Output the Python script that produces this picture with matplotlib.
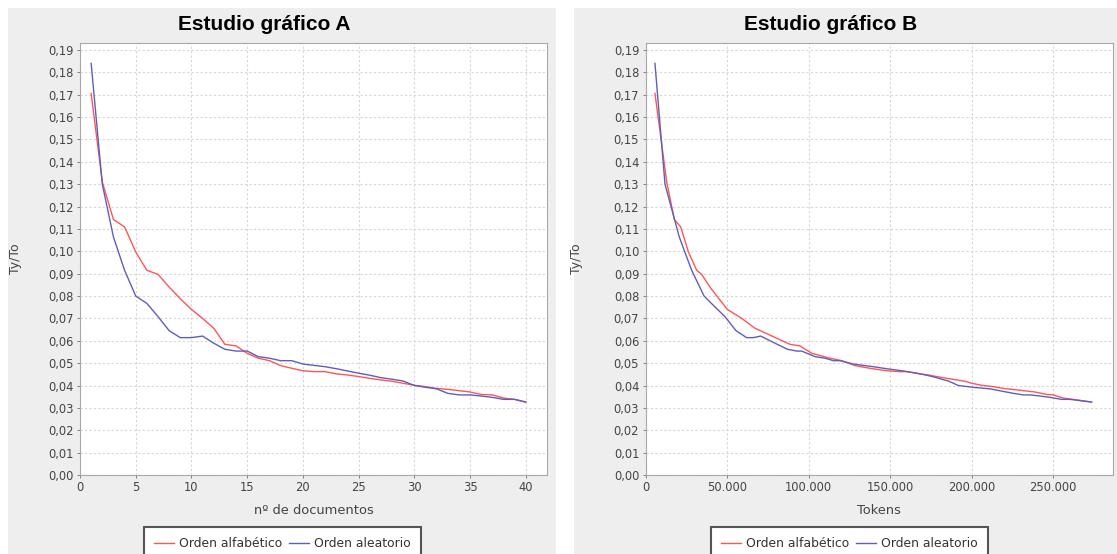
import matplotlib
matplotlib.use("Agg")
import matplotlib.pyplot as plt
from matplotlib.patches import Rectangle
from matplotlib.ticker import FuncFormatter, MultipleLocator

# datos: Ty/To por documento
docs = list(range(1, 41))
alfabetico = [0.1706, 0.1310, 0.1142, 0.1109, 0.0997, 0.0915, 0.0897, 0.0840, 0.0788, 0.0740,
              0.0700, 0.0656, 0.0584, 0.0577, 0.0544, 0.0522, 0.0511, 0.0489, 0.0477, 0.0466,
              0.0462, 0.0462, 0.0452, 0.0447, 0.0440, 0.0432, 0.0425, 0.0419, 0.0410, 0.0401,
              0.0395, 0.0387, 0.0383, 0.0377, 0.0371, 0.0360, 0.0358, 0.0344, 0.0338, 0.0326]
aleatorio = [0.1840, 0.1300, 0.1064, 0.0915, 0.0800, 0.0767, 0.0708, 0.0645, 0.0614, 0.0614,
             0.0621, 0.0589, 0.0562, 0.0554, 0.0554, 0.0529, 0.0522, 0.0511, 0.0511, 0.0496,
             0.0490, 0.0484, 0.0475, 0.0465, 0.0455, 0.0446, 0.0435, 0.0428, 0.0420, 0.0400,
             0.0392, 0.0385, 0.0365, 0.0358, 0.0358, 0.0353, 0.0347, 0.0338, 0.0338, 0.0326]

# tokens acumulados en cada documento
tokens_alf = [5800, 13000, 17700, 21600, 26300, 31400, 34400, 39500, 45000, 50200,
              59000, 67100, 88600, 94700, 101900, 113100, 120300, 128400, 137600, 147800,
              156000, 160000, 168300, 173400, 178500, 184700, 190800, 195900, 200000, 206100,
              213200, 219400, 224500, 231700, 238800, 246000, 250000, 256100, 262300, 273500]
tokens_ale = [5800, 11950, 20700, 28300, 35900, 40400, 48700, 55500, 62000, 66100,
              70600, 79400, 87000, 92700, 95700, 104000, 110100, 115200, 119300, 127500,
              133600, 139800, 147800, 158100, 166300, 172400, 178500, 181600, 185700, 191800,
              201000, 211200, 225500, 231700, 235800, 241900, 248000, 255200, 260300, 273500]

W, H = 1117, 554
ROJO = '#FF5555'
AZUL = '#5E5EBE'

fig = plt.figure(figsize=(W / 100, H / 100), dpi=100)

# fondos grises de cada grafico
fig.patches.append(Rectangle((8 / W, 0), 548 / W, 546 / H, transform=fig.transFigure,
                             facecolor='#EEEEEE', edgecolor='none', zorder=-1))
fig.patches.append(Rectangle((574 / W, 0), 543 / W, 546 / H, transform=fig.transFigure,
                             facecolor='#EEEEEE', edgecolor='none', zorder=-1))

coma2 = FuncFormatter(lambda v, p: f"{v:.2f}".replace('.', ','))
miles = FuncFormatter(lambda v, p: f"{int(round(v)):,}".replace(',', '.'))


def preparar(ax, ylab_x):
    ax.set_facecolor('white')
    for s in ax.spines.values():
        s.set_color('#A8A8A8')
        s.set_linewidth(0.8)
    ax.grid(True, color='#D6D6D6', linestyle=(0, (2, 2)), linewidth=0.8)
    ax.set_axisbelow(True)
    ax.tick_params(length=2.5, width=0.7, color='#808080', labelsize=8.3,
                   labelcolor='#444444', pad=2)
    ax.set_ylim(0, 0.1931)
    ax.yaxis.set_major_locator(MultipleLocator(0.01))
    ax.yaxis.set_major_formatter(coma2)
    ax.set_ylabel('Ty/To', fontsize=9, color='#444444')
    ax.yaxis.set_label_coords(ylab_x, 0.5)


ax1 = fig.add_axes([80 / W, 79 / H, 467 / W, 432 / H])
preparar(ax1, -0.125)
ax1.plot(docs, alfabetico, color=ROJO, lw=1.0, label='Orden alfabético')
ax1.plot(docs, aleatorio, color=AZUL, lw=1.0, label='Orden aleatorio')
ax1.set_xlim(0, 41.9)
ax1.xaxis.set_major_locator(MultipleLocator(5))
ax1.set_xlabel('nº de documentos', fontsize=9.4, color='#444444', labelpad=7)

ax2 = fig.add_axes([645.5 / W, 79 / H, 467.5 / W, 432 / H])
preparar(ax2, -0.133)
ax2.plot(tokens_alf, alfabetico, color=ROJO, lw=1.0, label='Orden alfabético')
ax2.plot(tokens_ale, aleatorio, color=AZUL, lw=1.0, label='Orden aleatorio')
ax2.set_xlim(0, 286600)
ax2.xaxis.set_major_locator(MultipleLocator(50000))
ax2.xaxis.set_major_formatter(miles)
ax2.set_xlabel('Tokens', fontsize=9.4, color='#444444', labelpad=7)

fig.text(264 / W, 1 - 25 / H, 'Estudio gráfico A', ha='center', va='center',
         fontsize=15, fontweight='bold', family='Liberation Sans')
fig.text(831 / W, 1 - 25 / H, 'Estudio gráfico B', ha='center', va='center',
         fontsize=15, fontweight='bold', family='Liberation Sans')

for ax, cx in ((ax1, 282.5), (ax2, 849.5)):
    leg = ax.legend(loc='upper center', bbox_to_anchor=(cx / W, 1 - 527 / H),
                    bbox_transform=fig.transFigure, ncol=2, fontsize=8.9,
                    frameon=True, fancybox=False, handlelength=1.6, handletextpad=0.4,
                    columnspacing=0.6, borderpad=0.8, borderaxespad=0)
    fr = leg.get_frame()
    fr.set_edgecolor('#555555')
    fr.set_linewidth(1.5)
    fr.set_facecolor('white')
    fr.set_alpha(1)
    for t in leg.get_texts():
        t.set_color('#333333')

fig.savefig('out.png', dpi=100)
